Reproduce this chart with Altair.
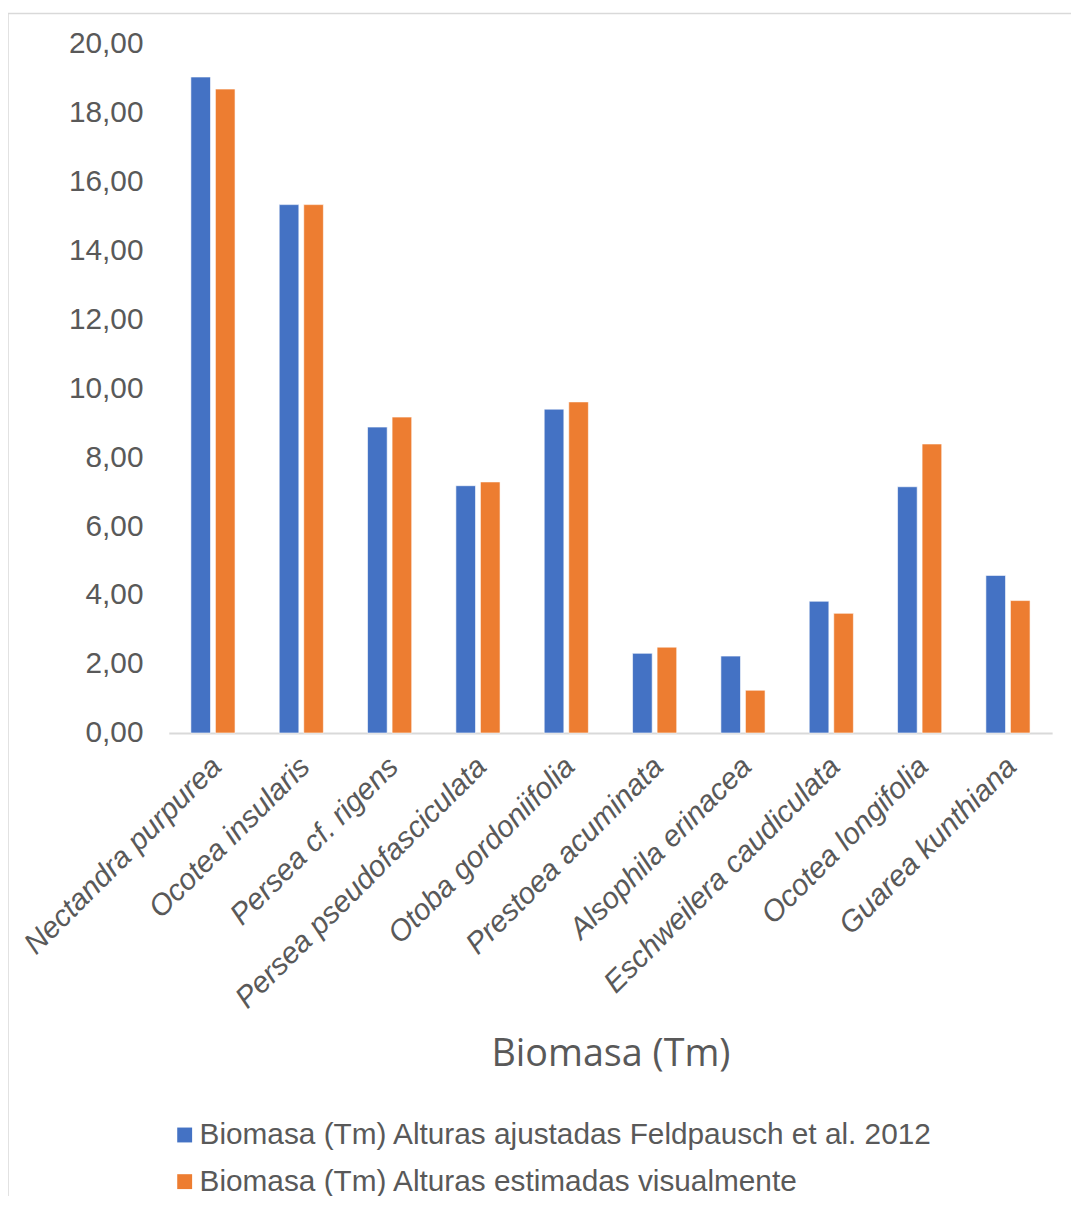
import altair as alt
import pandas as pd

species = ["Nectandra purpurea", "Ocotea insularis", "Persea cf. rigens",
           "Persea pseudofasciculata", "Otoba gordoniifolia", "Prestoea acuminata",
           "Alsophila erinacea", "Eschweilera caudiculata", "Ocotea longifolia",
           "Guarea kunthiana"]
series_names = ["Biomasa (Tm) Alturas ajustadas Feldpausch et al. 2012",
                "Biomasa (Tm) Alturas estimadas visualmente"]
ajustadas = [19.02, 15.32, 8.87, 7.17, 9.39, 2.31, 2.23, 3.82, 7.14, 4.57]
visual = [18.67, 15.32, 9.16, 7.28, 9.60, 2.49, 1.24, 3.47, 8.38, 3.84]
colors = ["#4472C4", "#ED7D31"]
y_ticks = [0, 2, 4, 6, 8, 10, 12, 14, 16, 18, 20]

rows = []
for s, a, v in zip(species, ajustadas, visual):
    rows.append({"Especie": s, "Serie": series_names[0], "Biomasa": a})
    rows.append({"Especie": s, "Serie": series_names[1], "Biomasa": v})
df = pd.DataFrame(rows)

W, H = 890, 695
FONT = "Liberation Sans"
GRAY = "#595959"

bars = alt.Chart(df).mark_bar(stroke="white", strokeWidth=1, strokeOpacity=0.6).encode(
    x=alt.X("Especie:N", sort=species,
            scale=alt.Scale(paddingInner=0.5, paddingOuter=0.25),
            axis=alt.Axis(title="Biomasa (Tm)", labelAngle=-45, labelAlign="right",
                          labelBaseline="middle", labelPadding=29, labelOffset=4,
                          ticks=False, domainColor="#d9d9d9", domainWidth=2,
                          labelLimit=1000, labelFont=FONT, labelFontSize=30,
                          labelFontStyle="italic",
                          labelColor=GRAY, titleFont="Open Sans", titleFontSize=38,
                          titleFontWeight="normal", titleColor=GRAY,
                          titleBaseline="middle", titleY=324)),
    xOffset=alt.XOffset("Serie:N", sort=series_names,
                        scale=alt.Scale(paddingInner=0.2, paddingOuter=0)),
    y=alt.Y("Biomasa:Q", scale=alt.Scale(domain=[0, 20], nice=False),
            axis=alt.Axis(title=None, values=y_ticks, grid=False, domain=False, ticks=False,
                          labelExpr="replace(format(datum.value, '.2f'), '.', ',')",
                          labelFont=FONT, labelFontSize=30, labelColor=GRAY,
                          labelPadding=26)),
    color=alt.Color("Serie:N", sort=series_names,
                    scale=alt.Scale(domain=series_names, range=colors),
                    legend=alt.Legend(title=None, orient="none", legendX=1, legendY=1085,
                                      direction="vertical", symbolType="square",
                                      symbolSize=225, symbolStrokeWidth=0, padding=0,
                                      labelFont=FONT, labelFontSize=30, labelColor=GRAY,
                                      labelLimit=1000, rowPadding=17, labelOffset=0)),
)

frame = alt.Chart(pd.DataFrame({"k": [0]})).mark_rect(
    fill=None, stroke="#d9d9d9", strokeWidth=1.5
).encode(
    x=alt.value(-162), x2=alt.value(1000), y=alt.value(-30), y2=alt.value(1300)
)

chart = alt.layer(frame, bars).properties(
    width=W, height=H,
    padding={"left": 162, "top": 31, "right": 19, "bottom": 462},
    autosize=alt.AutoSizeParams(type="none"),
    background="white",
).configure_view(strokeWidth=0)

chart.save("out.html", embed_options={"renderer": "svg", "actions": False})
